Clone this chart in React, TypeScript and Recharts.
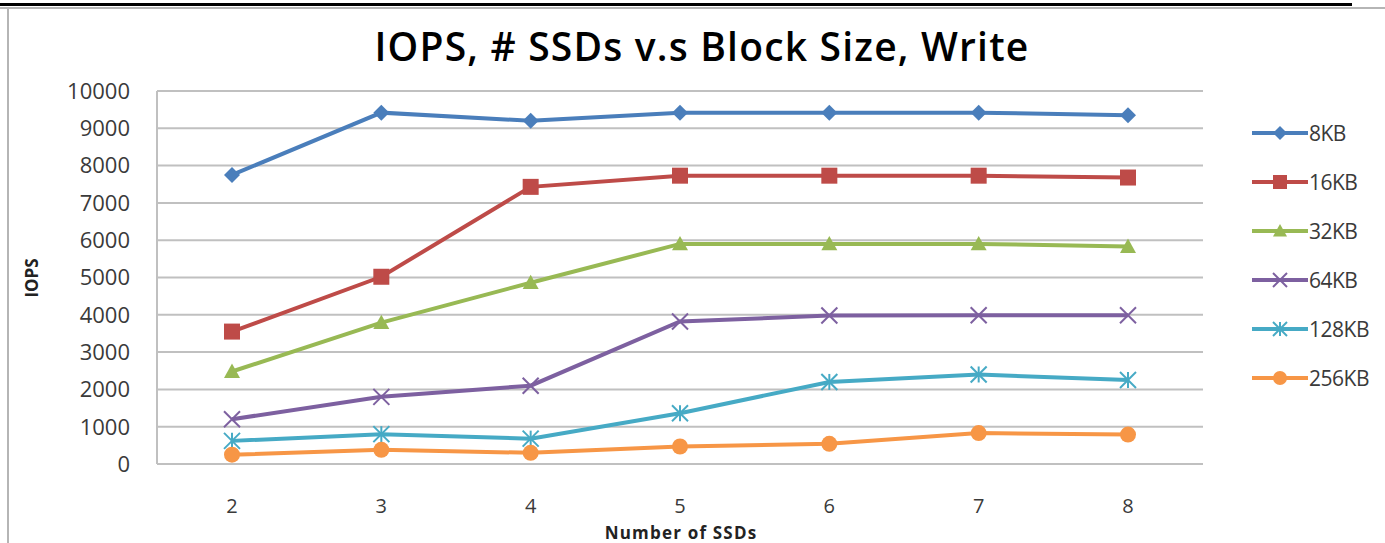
import { CartesianGrid, Line, LineChart, XAxis, YAxis } from "recharts"

// number of SSDs on the x axis
const ssdCounts = ["2", "3", "4", "5", "6", "7", "8"]

// write IOPS per block size
const iops8KB = [7750, 9420, 9200, 9420, 9420, 9420, 9350]
const iops16KB = [3550, 5020, 7430, 7730, 7730, 7730, 7680]
const iops32KB = [2480, 3790, 4860, 5900, 5900, 5900, 5830]
const iops64KB = [1200, 1800, 2100, 3820, 3980, 3990, 3990]
const iops128KB = [620, 800, 680, 1360, 2200, 2400, 2250]
const iops256KB = [250, 380, 300, 470, 540, 830, 790]

const yTicks = [0, 1000, 2000, 3000, 4000, 5000, 6000, 7000, 8000, 9000, 10000]

type Shape = "diamond" | "square" | "triangle" | "cross" | "star" | "circle"

const series: { key: string; name: string; color: string; shape: Shape; values: number[] }[] = [
  { key: "kb8", name: "8KB", color: "#4a7ebb", shape: "diamond", values: iops8KB },
  { key: "kb16", name: "16KB", color: "#be4b48", shape: "square", values: iops16KB },
  { key: "kb32", name: "32KB", color: "#98b954", shape: "triangle", values: iops32KB },
  { key: "kb64", name: "64KB", color: "#7d60a0", shape: "cross", values: iops64KB },
  { key: "kb128", name: "128KB", color: "#46aac5", shape: "star", values: iops128KB },
  { key: "kb256", name: "256KB", color: "#f79646", shape: "circle", values: iops256KB },
]

const rows = ssdCounts.map((n, i) => {
  const row: Record<string, string | number> = { ssds: n }
  series.forEach((s) => {
    row[s.key] = s.values[i]
  })
  return row
})

const FONT = "'Open Sans', sans-serif"
const TEXT = "#3a3a3a"

function Marker({ cx, cy, shape, color, r }: { cx: number; cy: number; shape: Shape; color: string; r: number }) {
  switch (shape) {
    case "diamond":
      return <polygon points={`${cx},${cy - r} ${cx + r},${cy} ${cx},${cy + r} ${cx - r},${cy}`} fill={color} />
    case "square":
      return <rect x={cx - r} y={cy - r} width={r * 2} height={r * 2} fill={color} />
    case "triangle":
      return <polygon points={`${cx},${cy - r} ${cx + r},${cy + r * 0.8} ${cx - r},${cy + r * 0.8}`} fill={color} />
    case "cross":
      return (
        <g stroke={color} strokeWidth={2}>
          <line x1={cx - r} y1={cy - r} x2={cx + r} y2={cy + r} />
          <line x1={cx - r} y1={cy + r} x2={cx + r} y2={cy - r} />
        </g>
      )
    case "star":
      return (
        <g stroke={color} strokeWidth={2}>
          <line x1={cx - r} y1={cy - r} x2={cx + r} y2={cy + r} />
          <line x1={cx - r} y1={cy + r} x2={cx + r} y2={cy - r} />
          <line x1={cx} y1={cy - r} x2={cx} y2={cy + r} />
        </g>
      )
    default:
      return <circle cx={cx} cy={cy} r={r} fill={color} />
  }
}

export default function App() {
  return (
    <div style={{ position: "absolute", left: 0, top: 0, width: 1385, height: 543, background: "#fff", fontFamily: FONT }}>
      {/* frame lines */}
      <div style={{ position: "absolute", left: 0, top: 3, width: 1352, height: 3, background: "#000" }} />
      <div style={{ position: "absolute", left: 0, top: 7, width: 1385, height: 2, background: "#b5b5b5" }} />
      <div style={{ position: "absolute", left: 7, top: 8, width: 2, height: 535, background: "#b5b5b5" }} />

      <div
        style={{
          position: "absolute",
          left: 0,
          width: 1404,
          top: 20,
          textAlign: "center",
          fontSize: 39,
          fontWeight: 600,
          color: "#000",
          lineHeight: "52px",
          letterSpacing: 1.2,
        }}
      >
        IOPS, # SSDs v.s Block Size, Write
      </div>

      <LineChart width={1385} height={543} data={rows} margin={{ top: 91, right: 182, bottom: 0, left: 0 }}>
        <CartesianGrid vertical={false} stroke="#c0c0c0" strokeWidth={2} />
        <XAxis
          dataKey="ssds"
          height={79}
          padding={{ left: 75, right: 75 }}
          tickSize={0}
          tickMargin={35}
          tick={{ fill: TEXT, fontSize: 20, fontFamily: FONT }}
          axisLine={{ stroke: "#c0c0c0", strokeWidth: 2 }}
          label={{
            content: () => (
              <text
                x={681}
                y={539}
                textAnchor="middle"
                fontSize={17}
                fontWeight={700}
                letterSpacing={1.2}
                fill="#222"
                fontFamily={FONT}
              >
                Number of SSDs
              </text>
            ),
          }}
        />
        <YAxis
          width={157}
          domain={[0, 10000]}
          ticks={yTicks}
          interval={0}
          tickSize={0}
          tickMargin={27}
          tick={{ fill: TEXT, fontSize: 22, fontFamily: FONT }}
          axisLine={{ stroke: "#c0c0c0", strokeWidth: 2 }}
          label={{
            content: () => (
              <text
                x={38}
                y={278}
                transform="rotate(-90 38 278)"
                textAnchor="middle"
                fontSize={17}
                fontWeight={700}
                fill="#222"
                fontFamily={FONT}
              >
                IOPS
              </text>
            ),
          }}
        />
        {series.map((s) => (
          <Line
            key={s.key}
            dataKey={s.key}
            name={s.name}
            stroke={s.color}
            strokeWidth={4}
            isAnimationActive={false}
            dot={(p: any) => (
              <Marker key={`${s.key}-${p.index}`} cx={p.cx} cy={p.cy} shape={s.shape} color={s.color} r={8} />
            )}
            activeDot={false}
          />
        ))}
      </LineChart>

      {/* legend */}
      <div style={{ position: "absolute", left: 1252, top: 108 }}>
        {series.map((s) => (
          <div key={s.key} style={{ display: "flex", alignItems: "center", height: 49 }}>
            <svg width={56} height={20}>
              <line x1={0} y1={10} x2={56} y2={10} stroke={s.color} strokeWidth={4} />
              <Marker cx={28} cy={10} shape={s.shape} color={s.color} r={7} />
            </svg>
            <span style={{ marginLeft: 1, fontSize: 21, color: TEXT, letterSpacing: -0.5 }}>{s.name}</span>
          </div>
        ))}
      </div>
    </div>
  )
}
